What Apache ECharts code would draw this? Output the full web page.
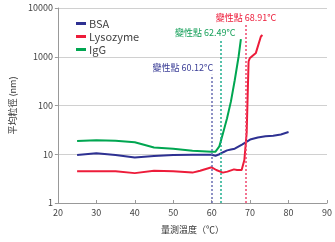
<!DOCTYPE html>
<html>
<head>
<meta charset="utf-8">
<script src="https://cdn.jsdelivr.net/npm/echarts@6/dist/echarts.min.js"></script>
<style>
  html, body { margin: 0; padding: 0; background: #fff; }
  #chart { width: 335px; height: 242px; }
</style>
</head>
<body>
<div id="chart"></div>
<script>
'use strict';
const bsaTemp = [25, 30, 35, 40, 45, 50, 55, 60, 61, 62, 63, 64, 65, 66, 68, 70, 72, 74, 76, 78, 80];
const bsaSize = [9.7, 10.5, 9.7, 8.6, 9.2, 9.6, 9.8, 9.8, 9.3, 10, 11, 12, 12.5, 13, 16, 20, 22, 23.5, 24, 25.5, 28.5];

const lysoTemp = [25, 30, 35, 40, 45, 50, 55, 57, 60, 61.2, 62.9, 64.1, 65.8, 66.6, 67.8, 68.5, 69.1, 69.6, 69.9, 71.5, 71.9, 72.8, 73.2];
const lysoSize = [4.5, 4.5, 4.5, 4.1, 4.6, 4.5, 4.2, 4.6, 5.4, 4.75, 4.2, 4.4, 4.9, 4.75, 4.75, 7.6, 27, 800, 930, 1200, 1270, 2600, 2800];

const iggTemp = [25, 30, 35, 40, 45, 50, 55, 60, 61, 62, 63, 64, 65, 66, 67, 67.6];
const iggSize = [18.7, 19.4, 19, 17.6, 13.7, 13, 11.8, 11.3, 11.3, 14.5, 28, 55, 120, 330, 1000, 2300];

const seriesNames = ['BSA', 'Lysozyme', 'IgG'];
const seriesColors = ['#2e3192', '#ed1c3a', '#00a651'];
const markColors = ['#6a6db3', '#f0456e', '#1fae8f'];
const labelColors = ['#3a3d96', '#ed1c3a', '#16a05a'];
const transTemp = [60.12, 68.91, 62.49];
const transTop = [425, 4500, 2230];
const transText = ['變性點 60.12°C', '變性點 68.91°C', '變性點 62.49°C'];
const labelAlign = ['right', 'center', 'center'];
const labelShift = [[1, 0], [0, 0], [-16, 0]];

const yTicks = [1, 10, 100, 1000, 10000];

function pairs(xs, ys) {
  return xs.map((x, i) => [x, ys[i]]);
}

const sets = [pairs(bsaTemp, bsaSize), pairs(lysoTemp, lysoSize), pairs(iggTemp, iggSize)];

const chart = echarts.init(document.getElementById('chart'));
chart.setOption({
  animation: false,
  textStyle: {fontFamily: '"Noto Sans CJK TC", "Noto Sans", sans-serif'},
  grid: {left: 53, right: 0, top: 8, bottom: 39},
  legend: {
    orient: 'vertical',
    left: 71,
    top: 13,
    itemGap: 2,
    itemWidth: 10,
    itemHeight: 3,
    icon: 'rect',
    data: seriesNames,
    textStyle: {fontSize: 11, color: '#444', padding: [0, 0, 0, -2]}
  },
  xAxis: {
    type: 'value',
    min: 20,
    max: 90,
    interval: 10,
    name: '量測溫度（℃）',
    nameLocation: 'middle',
    nameGap: 22,
    nameTextStyle: {fontSize: 9, color: '#333'},
    axisLine: {lineStyle: {color: '#999'}},
    axisTick: {inside: true, length: 3, lineStyle: {color: '#999'}},
    axisLabel: {fontSize: 9, color: '#444', margin: 5},
    splitLine: {show: false}
  },
  yAxis: {
    type: 'log',
    logBase: 10,
    min: yTicks[0],
    max: yTicks[yTicks.length - 1],
    name: '平均粒徑 (nm)',
    nameLocation: 'middle',
    nameGap: 38,
    nameTextStyle: {fontSize: 9, color: '#333'},
    axisLine: {show: true, lineStyle: {color: '#999'}},
    axisTick: {show: true, length: 3, lineStyle: {color: '#999'}},
    axisLabel: {fontSize: 9, color: '#444', margin: 5, formatter: (v) => String(Math.round(v))},
    splitLine: {lineStyle: {color: '#d0d0d0'}}
  },
  series: seriesNames.map((name, i) => ({
    name: name,
    type: 'line',
    data: sets[i],
    showSymbol: false,
    symbol: 'none',
    color: seriesColors[i],
    lineStyle: {width: 2},
    z: 3,
    markLine: {
      silent: true,
      symbol: 'none',
      lineStyle: {type: [2, 2], width: 1.5, color: markColors[i]},
      label: {
        show: true,
        position: 'end',
        distance: 3,
        align: labelAlign[i],
        offset: labelShift[i],
        fontSize: 9,
        color: labelColors[i],
        formatter: transText[i]
      },
      data: [[{coord: [transTemp[i], 1]}, {coord: [transTemp[i], transTop[i]]}]]
    }
  }))
});
</script>
</body>
</html>
